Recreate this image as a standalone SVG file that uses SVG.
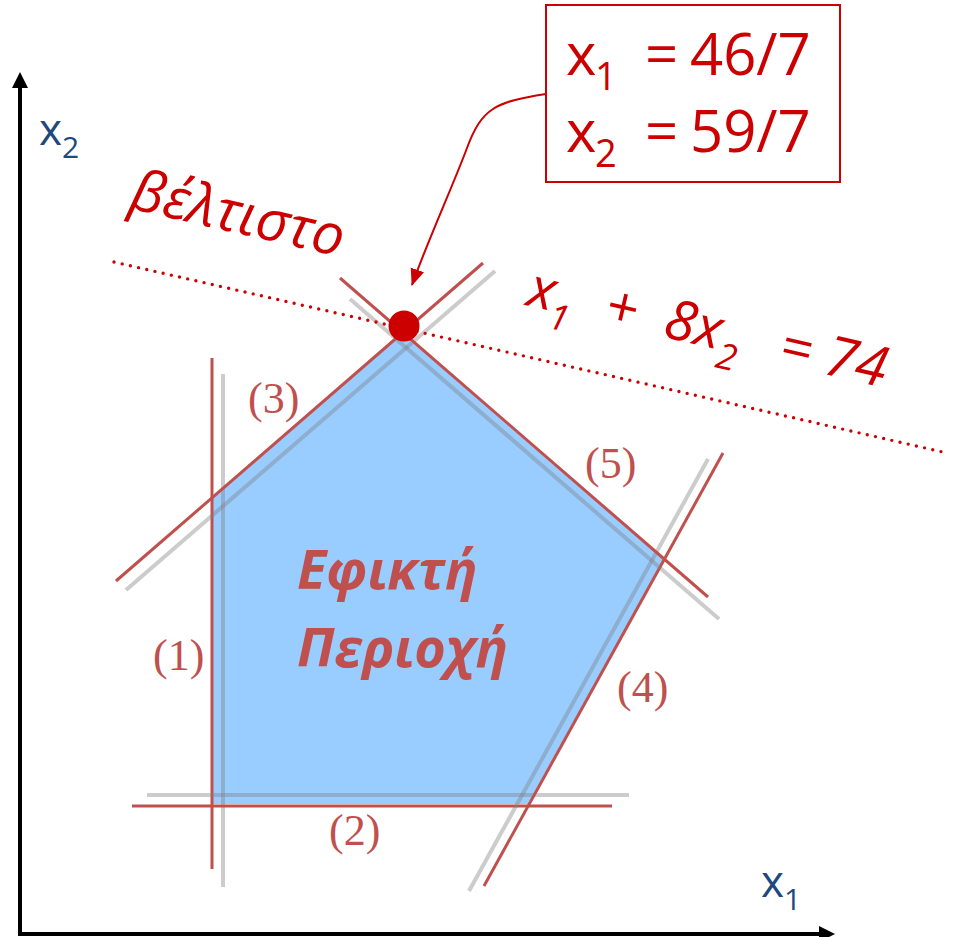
<svg xmlns="http://www.w3.org/2000/svg" width="955" height="937" viewBox="0 0 955 937">
<style>
.axis{stroke:#000;stroke-width:4;fill:none}
.red{stroke:#C0504D;stroke-width:3;fill:none}
.gray{stroke:#7F7F7F;stroke-opacity:0.4;stroke-width:4;fill:none}
.num{font-family:"Liberation Serif","Times New Roman",serif;font-size:44px;fill:#C0504D}
.ax{font-family:"Open Sans","Liberation Sans",sans-serif;fill:#1F497D}
.rt{font-family:"Open Sans","Liberation Sans",sans-serif;fill:#CC0000}
</style>
<defs>
<marker id="ah" markerUnits="userSpaceOnUse" markerWidth="18" markerHeight="16" refX="16" refY="7" orient="auto">
<path d="M0,0 L17,7 L0,14 z" fill="#CC0000"/>
</marker>
<marker id="axh" markerUnits="userSpaceOnUse" markerWidth="18" markerHeight="18" refX="2" refY="8" orient="auto">
<path d="M0,0 L16,8 L0,16 z" fill="#000"/>
</marker>
</defs>
<rect width="955" height="937" fill="#fff"/>

<g id="axes">
<line class="axis" x1="20" y1="936" x2="20" y2="86" marker-end="url(#axh)"/>
<line class="axis" x1="18" y1="934" x2="821" y2="934" marker-end="url(#axh)"/>
<text class="ax" x="39" y="145" font-size="44">x<tspan font-size="30" dy="13">2</tspan></text>
<text class="ax" x="761" y="897" font-size="44">x<tspan font-size="30" dy="13">1</tspan></text>
</g>

<g id="region">
<polygon points="213,497 403,332 664,559 528,804 213,804" fill="#99CCFF"/>
<text x="297" y="589" font-family="'Open Sans','Liberation Sans',sans-serif" font-weight="bold" font-style="italic" font-size="54" fill="#C0504D">Εφικτή</text>
<text x="297" y="667" font-family="'Open Sans','Liberation Sans',sans-serif" font-weight="bold" font-style="italic" font-size="54" fill="#C0504D">Περιοχή</text>
</g>

<g id="constraint1">
<line class="gray" x1="223" y1="374" x2="223" y2="887"/>
<line class="red" x1="212" y1="358" x2="212" y2="869"/>
<text class="num" x="153" y="670">(1)</text>
</g>
<g id="constraint2">
<line class="gray" x1="147" y1="795" x2="629" y2="795"/>
<line class="red" x1="132" y1="806" x2="612" y2="806"/>
<text class="num" x="329" y="845">(2)</text>
</g>
<g id="constraint3">
<line class="gray" x1="126" y1="590" x2="495" y2="271"/>
<line class="red" x1="116" y1="581" x2="483" y2="263"/>
<text class="num" x="248" y="413">(3)</text>
</g>
<g id="constraint4">
<line class="gray" x1="469" y1="891" x2="708" y2="459"/>
<line class="red" x1="484" y1="886" x2="723" y2="453"/>
<text class="num" x="617" y="702">(4)</text>
</g>
<g id="constraint5">
<line class="gray" x1="350" y1="299" x2="719" y2="619"/>
<line class="red" x1="340" y1="278" x2="708" y2="597"/>
<text class="num" x="585" y="478">(5)</text>
</g>

<g id="objective">
<line x1="114" y1="262" x2="947" y2="453" stroke="#CC0000" stroke-width="3.4" stroke-linecap="round" stroke-dasharray="0 8.4"/>
<g transform="translate(525,305) rotate(13)">
<text class="rt" font-style="italic" font-size="56" y="0"><tspan x="0">x</tspan><tspan x="26" y="17" font-size="36">1</tspan><tspan x="79" y="0">+</tspan><tspan x="140" y="0">8x</tspan><tspan x="198" y="18" font-size="36">2</tspan><tspan x="258" y="0">=</tspan><tspan x="305" y="0">74</tspan></text>
</g>
</g>

<g id="optimum">
<circle cx="404" cy="326" r="15.5" fill="#CC0000"/>
<text class="rt" font-style="italic" font-size="57" transform="translate(128,208) rotate(13)">βέλτιστο</text>
</g>

<g id="solution-box">
<rect x="546" y="5" width="294" height="177" fill="#fff" stroke="#CC0000" stroke-width="2"/>
<text class="rt" font-size="58"><tspan x="566" y="75">x</tspan><tspan x="595" y="90" font-size="38">1</tspan><tspan x="645" y="75">=</tspan><tspan x="690" y="75">46/7</tspan></text>
<text class="rt" font-size="58"><tspan x="566" y="152">x</tspan><tspan x="595" y="167" font-size="38">2</tspan><tspan x="645" y="152">=</tspan><tspan x="690" y="152">59/7</tspan></text>
</g>

<g id="connectors">
<path d="M546,94 C495,102 482,108 467,148 S428,240 412,285" fill="none" stroke="#CC0000" stroke-width="2" marker-end="url(#ah)"/>
</g>
</svg>
